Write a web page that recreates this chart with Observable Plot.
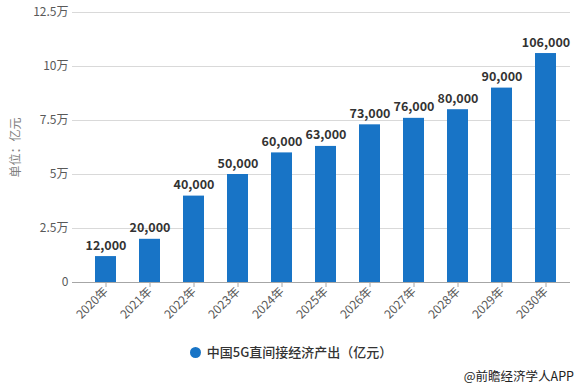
<!DOCTYPE html>
<html><head><meta charset="utf-8">
<script src="https://cdn.jsdelivr.net/npm/d3@7"></script>
<script src="https://cdn.jsdelivr.net/npm/@observablehq/plot@0.6"></script>
<style>
body{margin:0;background:#fff;font-family:"Noto Sans CJK SC","Noto Sans",sans-serif;}
#wrap{width:582px;height:389px;position:relative;}
#legend{position:absolute;left:0;top:342px;width:582px;text-align:center;font-size:13px;color:#333;font-weight:500;}
#legend .dot{display:inline-block;width:11px;height:11px;border-radius:50%;background:#1874c6;vertical-align:-1px;margin-right:6px;}
#caption{position:absolute;right:8px;top:366px;font-size:12.5px;color:#222;}
</style></head>
<body><div id="wrap"><div id="chart"></div><div id="legend"><span class="dot"></span>中国5G直间接经济产出（亿元）</div><div id="caption">@前瞻经济学人APP</div></div>
<script>
const years = ["2020年","2021年","2022年","2023年","2024年","2025年","2026年","2027年","2028年","2029年","2030年"];
const values = [12000,20000,40000,50000,60000,63000,73000,76000,80000,90000,106000];
const yTicks = [0,25000,50000,75000,100000,125000];
const data = years.map((y,i)=>({year:y,value:values[i]}));
const fmtY = d => d===0 ? "0" : (d/10000)+"万";
const chart = Plot.plot({
  width:582, height:330,
  marginLeft:72, marginRight:12, marginTop:12, marginBottom:48,
  style:{fontFamily:'"Noto Sans CJK SC","Noto Sans",sans-serif',fontSize:"12px",color:"#595959",background:"#fff"},
  x:{domain:years, paddingInner:0.52, paddingOuter:0.26, insetLeft:11, insetRight:2, label:null},
  y:{domain:[0,125000], ticks:yTicks, label:null},
  marks:[
    Plot.ruleY(yTicks.filter(d=>d>0),{stroke:"#d9d9d9",strokeWidth:1}),
    Plot.barY(data,{x:"year",y:"value",fill:"#1874c6"}),
    Plot.ruleY([0],{stroke:"#a6a6a6",strokeWidth:1}),
    Plot.text(data,{x:"year",y:"value",text:d=>d3.format(",")(d.value),dy:-11,fontWeight:"bold",fontSize:12.5,fill:"#333"}),
    Plot.axisY({ticks:yTicks,tickFormat:fmtY,tickSize:0,tickPadding:4,fontSize:12,fill:"#595959"}),
    Plot.axisX({tickSize:5,tickRotate:-45,tickPadding:2,fontSize:12,fill:"#595959",stroke:"#a6a6a6"}),
    Plot.text(["单位：亿元"],{frameAnchor:"left",textAnchor:"middle",dx:-56,dy:0,rotate:-90,fontSize:12,fill:"#7f7f7f"})
  ]
});
document.getElementById("chart").appendChild(chart);
</script></body></html>
